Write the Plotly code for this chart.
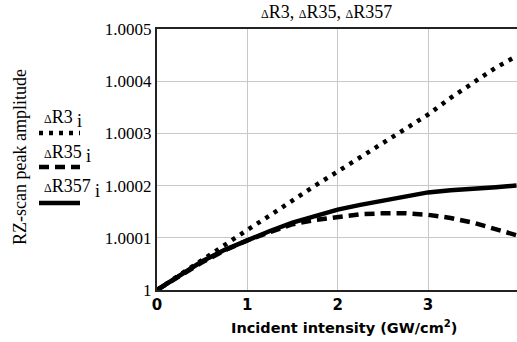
import plotly.graph_objects as go

# Incident intensity (GW/cm^2)
x = [0, 0.25, 0.5, 0.75, 1.0, 1.25, 1.5, 1.75, 2.0, 2.25, 2.5, 2.75, 3.0, 3.25, 3.5, 3.75, 3.98]
# amplitudes minus 1, in units of 1e-4
dR3 = [0, 0.29, 0.59, 0.88, 1.15, 1.43, 1.72, 2.0, 2.27, 2.54, 2.82, 3.09, 3.36, 3.68, 3.98, 4.26, 4.48]
dR35 = [0, 0.27, 0.53, 0.76, 0.95, 1.11, 1.26, 1.34, 1.40, 1.45, 1.47, 1.47, 1.44, 1.38, 1.29, 1.17, 1.05]
dR357 = [0, 0.28, 0.55, 0.77, 0.96, 1.13, 1.29, 1.42, 1.54, 1.63, 1.71, 1.80, 1.87, 1.91, 1.93, 1.97, 2.0]

ytickvals = [1, 1.0001, 1.0002, 1.0003, 1.0004, 1.0005]
yticktext = ["1", "1.0001", "1.0002", "1.0003", "1.0004", "1.0005"]
xtickvals = [0, 1, 2, 3]
xticktext = ["0", "1", "2", "3"]

def amp(v):
    return [1 + a * 1e-4 for a in v]

W, H = 517, 342
L, R, T, B = 157, 0, 29, 52
pw, ph = W - L - R, H - T - B

def px(xp):
    return (xp - L) / pw

def py(yp):
    return (H - B - yp) / ph

fig = go.Figure()
fig.add_trace(go.Scatter(x=x, y=amp(dR3), mode="lines",
                         line=dict(color="black", width=4.5, dash="4px,6px")))
fig.add_trace(go.Scatter(x=x, y=amp(dR35), mode="lines",
                         line=dict(color="black", width=4.5, dash="10px,6px")))
fig.add_trace(go.Scatter(x=x, y=amp(dR357), mode="lines",
                         line=dict(color="black", width=4.5)))

serif = "Liberation Serif"
sans = "DejaVu Sans"
D = "<span style='font-size:12px'>\u0394</span>"

ann = []
ann.append(dict(text=f"{D}R3, {D}R35, {D}R357", x=px(326), y=py(12), xref="paper", yref="paper",
                showarrow=False, font=dict(family=serif, size=18, color="black"),
                xanchor="center", yanchor="middle"))
ann.append(dict(text="RZ-scan peak amplitude", x=px(20), y=py(157), xref="paper", yref="paper",
                showarrow=False, textangle=-90, font=dict(family=serif, size=18, color="black"),
                xanchor="center", yanchor="middle"))
ann.append(dict(text="<b>Incident intensity (GW/cm<sup>2</sup>)</b>", x=px(344), y=py(327),
                xref="paper", yref="paper", showarrow=False,
                font=dict(family=sans, size=14.5, color="black"), xanchor="center", yanchor="middle"))

legend = [("R3", 42, 117, 79, 121, 133, "4px,6px"),
          ("R35", 42, 152, 88, 156, 167, "10px,6px"),
          ("R357", 42, 186, 97, 191, 203, "solid")]
shapes = []
for name, lx, ly, ix, iy, sy, dash in legend:
    ann.append(dict(text=f"{D}{name}", x=px(lx), y=py(ly), xref="paper", yref="paper",
                    showarrow=False, font=dict(family=serif, size=18, color="black"),
                    xanchor="left", yanchor="middle"))
    ann.append(dict(text="i", x=px(ix), y=py(iy), xref="paper", yref="paper",
                    showarrow=False, font=dict(family=serif, size=18, color="black"),
                    xanchor="center", yanchor="middle"))
    shapes.append(dict(type="line", xref="paper", yref="paper", x0=px(39), x1=px(80),
                       y0=py(sy), y1=py(sy), line=dict(color="black", width=4.5, dash=dash)))

fig.update_layout(
    template="none",
    width=W, height=H,
    margin=dict(l=L, r=R, t=T, b=B, autoexpand=False),
    paper_bgcolor="white", plot_bgcolor="white",
    showlegend=False,
    font=dict(family=serif, size=17, color="black"),
    annotations=ann, shapes=shapes,
    xaxis=dict(range=[0, 3.985], tickmode="array", tickvals=xtickvals,
               ticktext=["<b>%s</b>" % t for t in xticktext],
               showgrid=True, gridcolor="#c8c8c8", gridwidth=1,
               showline=True, linecolor="#222", linewidth=2, mirror=True,
               ticks="", zeroline=False, automargin=False,
               tickfont=dict(family=sans, size=15, color="black")),
    yaxis=dict(range=[1, 1.0005], tickmode="array", tickvals=ytickvals, ticktext=yticktext,
               showgrid=True, gridcolor="#c8c8c8", gridwidth=1,
               showline=True, linecolor="#222", linewidth=2,
               ticks="", zeroline=False, automargin=False,
               tickfont=dict(family=serif, size=17, color="black")),
)
fig.write_html("out.html")
